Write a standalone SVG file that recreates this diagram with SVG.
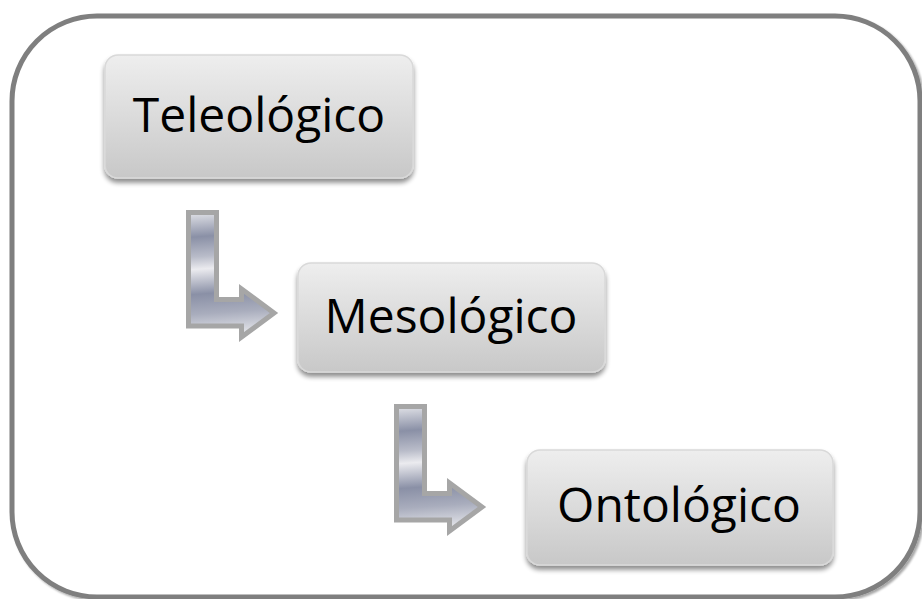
<svg xmlns="http://www.w3.org/2000/svg" width="922" height="599" viewBox="0 0 922 599">
  <style>
    .frame { fill: #ffffff; stroke: #7f7f7f; stroke-width: 5; }
    .box { fill: url(#boxFill); stroke: #d9d9d9; stroke-width: 1.5; filter: url(#boxShadow); }
    .label { font-family: "Open Sans", "Noto Sans", "Liberation Sans", sans-serif; font-size: 48px; fill: #000000; text-anchor: middle; }
    .arrow { fill: url(#metal); stroke: #a6a6a6; stroke-width: 5; stroke-linejoin: miter; }
  </style>
  <defs>
    <linearGradient id="boxFill" x1="0" y1="0" x2="0" y2="1">
      <stop offset="0" stop-color="#eeeeee"/>
      <stop offset="1" stop-color="#c8c8c8"/>
    </linearGradient>
    <!-- brushed-metal banding, mostly horizontal bands -->
    <linearGradient id="metal" x1="0" y1="0" x2="0.05" y2="1">
      <stop offset="0" stop-color="#e2e3e8"/>
      <stop offset="0.2" stop-color="#8a90a6"/>
      <stop offset="0.36" stop-color="#b9bcc9"/>
      <stop offset="0.46" stop-color="#ebebef"/>
      <stop offset="0.66" stop-color="#8a90a6"/>
      <stop offset="0.82" stop-color="#a9adbd"/>
      <stop offset="1" stop-color="#e4e5ea"/>
    </linearGradient>
    <filter id="boxShadow" x="-10%" y="-10%" width="120%" height="130%">
      <feGaussianBlur in="SourceAlpha" stdDeviation="2.5"/>
      <feOffset dx="0" dy="4" result="blur"/>
      <feComponentTransfer><feFuncA type="linear" slope="0.45"/></feComponentTransfer>
      <feMerge><feMergeNode/><feMergeNode in="SourceGraphic"/></feMerge>
    </filter>
    <filter id="frameShadow" x="-5%" y="-5%" width="110%" height="110%">
      <feGaussianBlur in="SourceAlpha" stdDeviation="1"/>
      <feOffset dx="1.5" dy="1.5"/>
      <feComponentTransfer><feFuncA type="linear" slope="0.35"/></feComponentTransfer>
      <feMerge><feMergeNode/><feMergeNode in="SourceGraphic"/></feMerge>
    </filter>
    <!-- bent arrow: down, then right -->
    <path id="bentArrow" class="arrow" d="M2.5,2.5 H30.5 V89.5 H55.5 V79 L88,103 L55.5,127 V116 H2.5 Z"/>
  </defs>

  <rect class="frame" x="12" y="16" width="908" height="581" rx="85" ry="85" filter="url(#frameShadow)"/>

  <g id="connectors">
    <use href="#bentArrow" x="186" y="210"/>
    <use href="#bentArrow" x="394" y="404"/>
  </g>

  <g id="node-teleologico">
    <rect class="box" x="105" y="55" width="308" height="123" rx="13"/>
    <text class="label" x="259" y="132">Teleológico</text>
  </g>

  <g id="node-mesologico">
    <rect class="box" x="298" y="263" width="307" height="109" rx="13"/>
    <text class="label" x="451" y="333">Mesológico</text>
  </g>

  <g id="node-ontologico">
    <rect class="box" x="527" y="450" width="306" height="115" rx="13"/>
    <text class="label" x="679" y="522">Ontológico</text>
  </g>
</svg>
